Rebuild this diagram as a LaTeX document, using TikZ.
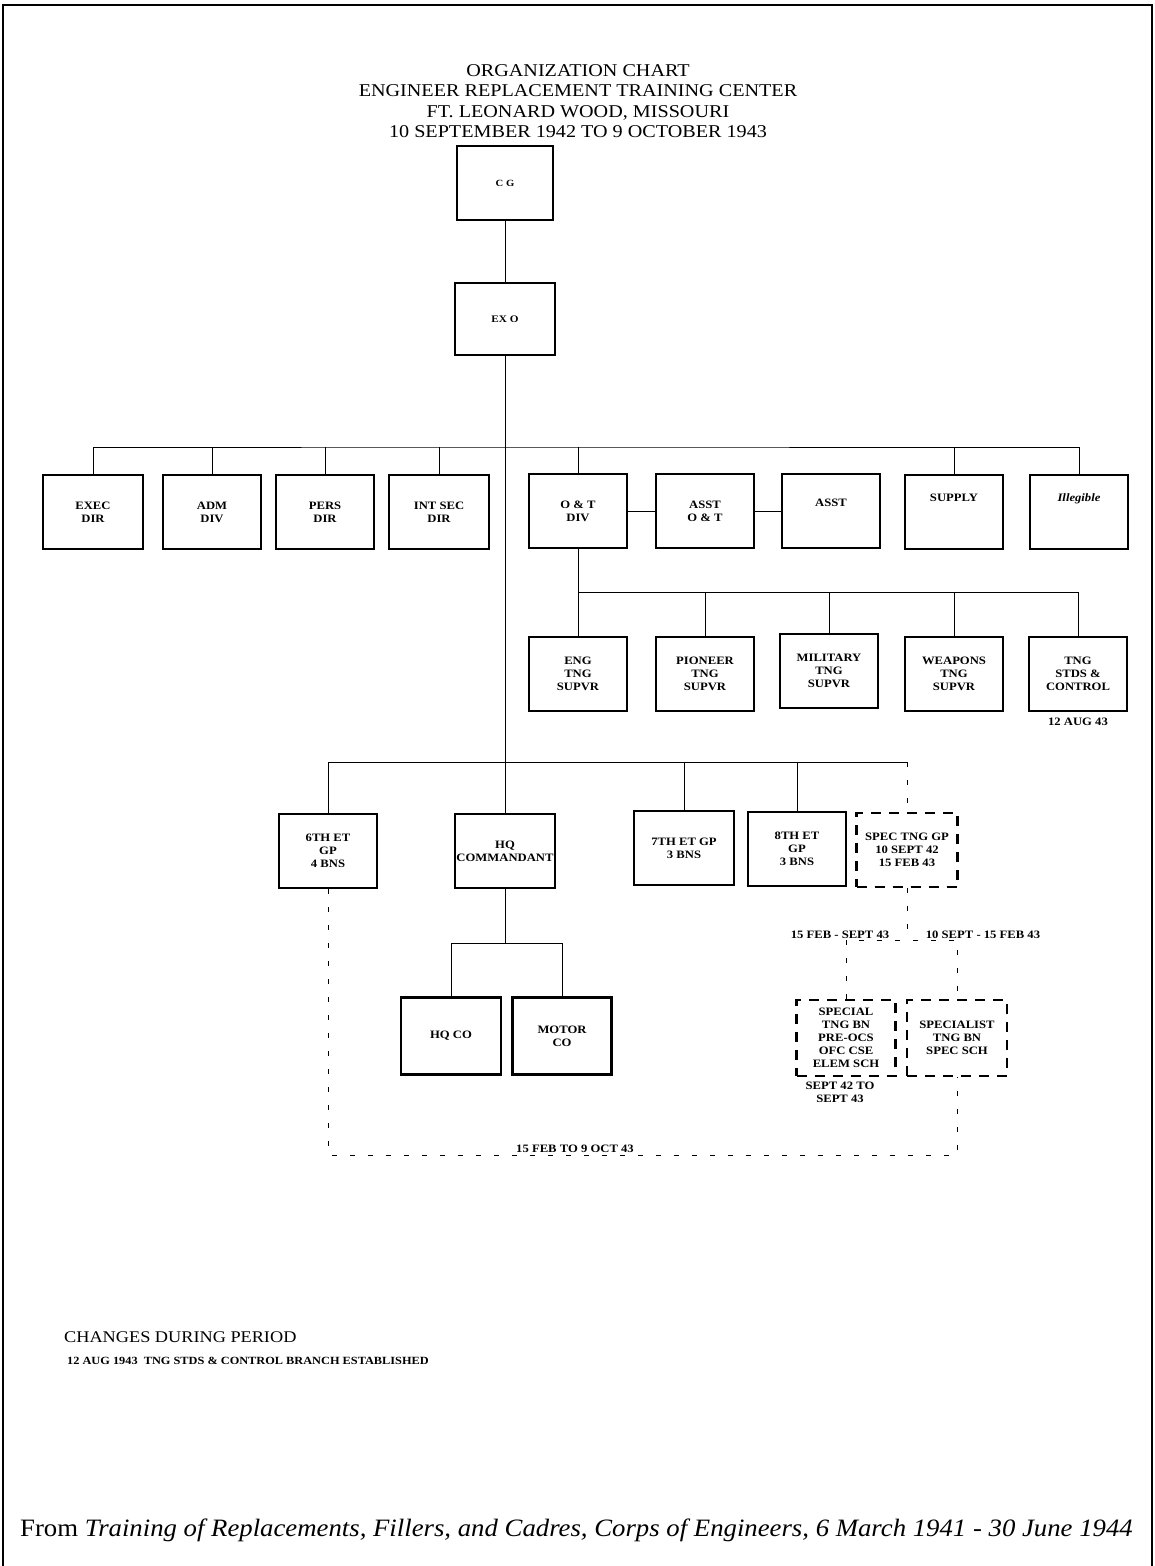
\documentclass[tikz,border=0pt]{standalone}
\usepackage{fontspec}
\setmainfont{Liberation Serif}
\newfontfamily\wide{Liberation Serif}[FakeStretch=1.12]
\newfontfamily\srcfont{Liberation Serif}[FakeStretch=1.07]
\begin{document}
\begin{tikzpicture}[x=1pt,y=-1pt,
  boxfont/.style={font=\wide\bfseries\fontsize{11.3}{13}\selectfont},
  box/.style={draw, line width=2.4pt, minimum width=98pt, minimum height=74pt, inner sep=0pt, align=center, boxfont},
  dbox/.style={box, dash pattern=on 10pt off 8pt},
  conn/.style={line width=0.9pt},
  dconn/.style={line width=1pt, dash pattern=on 5pt off 13pt},
  lbl/.style={boxfont, inner sep=0pt, align=center}]
\useasboundingbox (0,0) rectangle (1154,1566);
\draw[line width=2pt] (3,1566) -- (3,5) -- (1152,5) -- (1152,1566);

\node[font=\wide\fontsize{18}{20.5}\selectfont, align=center, inner sep=0pt] (title) at (578,101)
  {ORGANIZATION CHART\\ENGINEER REPLACEMENT TRAINING CENTER\\FT. LEONARD WOOD, MISSOURI\\10 SEPTEMBER 1942 TO 9 OCTOBER 1943};

% top
\node[box, minimum width=96pt, font=\wide\bfseries\fontsize{9.5}{11}\selectfont] (cg) at (505,183) {C G};
\node[box, minimum width=100pt, minimum height=72pt, font=\wide\bfseries\fontsize{10}{11}\selectfont] (exo) at (505,319) {EX O};

% row 1
\node[box, minimum width=100pt] (exec) at (93,512) {EXEC\\DIR};
\node[box] (adm) at (212,512) {ADM\\DIV};
\node[box] (pers) at (325,512) {PERS\\DIR};
\node[box, minimum width=100pt] (intsec) at (439,512) {INT SEC\\DIR};
\node[box] (ot) at (578,511) {O \& T\\DIV};
\node[box] (assto) at (705,511) {ASST\\O \& T};
\node[box, label={[lbl, yshift=8pt]center:ASST}] (asst) at (831,511) {};
\node[box, label={[lbl, yshift=14pt]center:SUPPLY}] (supply) at (954,512) {};
\node[box, label={[lbl, yshift=13pt]center:\textit{Illegible}}] (illeg) at (1079,512) {};

% row 2
\node[box] (eng) at (578,674) {ENG\\TNG\\SUPVR};
\node[box] (pion) at (705,674) {PIONEER\\TNG\\SUPVR};
\node[box] (mil) at (829,671) {MILITARY\\TNG\\SUPVR};
\node[box] (weap) at (954,674) {WEAPONS\\TNG\\SUPVR};
\node[box] (tngstds) at (1078,674) {TNG\\STDS \&\\CONTROL};
\node[lbl] (aug) at (1078,722) {12 AUG 43};

% row 3
\node[box] (g6) at (328,851) {6TH ET\\GP\\4 BNS};
\node[box, minimum width=100pt] (hq) at (505,851) {HQ\\COMMANDANT};
\node[box, minimum width=100pt] (g7) at (684,848) {7TH ET GP\\3 BNS};
\node[box] (g8) at (797,849) {8TH ET\\GP\\3 BNS};
\node[dbox, minimum width=101pt] (spec) at (907,850) {SPEC TNG GP\\10 SEPT 42\\15 FEB 43};

% row 4
\node[box, minimum width=100pt, minimum height=77pt] (hqco) at (451,1036) {HQ CO};
\node[box, minimum width=99pt, minimum height=77pt] (motor) at (562,1036) {MOTOR\\CO};
\node[dbox, minimum width=99pt, minimum height=76pt] (special) at (846,1038) {SPECIAL\\TNG BN\\PRE-OCS\\OFC CSE\\ELEM SCH};
\node[dbox, minimum width=100pt, minimum height=76pt] (specialist) at (957,1038) {SPECIALIST\\TNG BN\\SPEC SCH};
\node[lbl] (sept) at (840,1092) {SEPT 42 TO\\SEPT 43};

% connectors
\draw[conn] (cg) -- (exo);
\draw[conn] (exo) -- (hq);
\coordinate (b1) at (505,447);
\draw[conn] (exec.north) |- (b1) -| (illeg.north);
\foreach \n in {adm,pers,intsec,ot,supply} \draw[conn] (\n.north) -- (\n.north |- b1);
\draw[conn] (ot) -- (assto);
\draw[conn] (assto) -- (asst);
\coordinate (b2) at (578,592);
\draw[conn] (ot) -- (eng);
\draw[conn] (b2) -| (tngstds.north);
\foreach \n in {pion,mil,weap} \draw[conn] (\n.north) -- (\n.north |- b2);
\coordinate (b3) at (505,762);
\draw[conn] (g6.north) |- (b3) -- (b3 -| spec.north) coordinate (b3r);
\foreach \n in {g7,g8} \draw[conn] (\n.north) -- (\n.north |- b3);
\draw[dconn] (b3r) -- (spec.north);
\draw[conn] (hq.south) -- ++(0,54) coordinate (b4);
\draw[conn] (hqco.north) |- (b4) -| (motor.north);

\coordinate (b5) at (907,940);
\draw[dconn] (spec.south) -- (b5);
\draw[dconn] (special.north) |- (b5) -| (specialist.north);
\node[lbl, anchor=base] (l1) at (840,938) {15 FEB - SEPT 43};
\node[lbl, anchor=base] (l2) at (983,938) {10 SEPT - 15 FEB 43};

\coordinate (b6) at (640,1155);
\draw[dconn] (g6.south) |- (b6) -| (specialist.south);
\node[lbl, anchor=base] (l3) at (575,1152) {15 FEB TO 9 OCT 43};

% changes
\node[anchor=base west, inner sep=0pt, font=\wide\fontsize{16.3}{18}\selectfont] (chg) at (64,1342) {CHANGES DURING PERIOD};
\node[anchor=base west, inner sep=0pt, font=\wide\bfseries\fontsize{11}{12}\selectfont] (chg1) at (67,1364) {12 AUG 1943\ \ TNG STDS \& CONTROL BRANCH ESTABLISHED};

% source
\node[anchor=base west, inner sep=0pt, font=\srcfont\fontsize{25}{28}\selectfont] (src) at (20,1536) {From \textit{Training of Replacements, Fillers, and Cadres, Corps of Engineers, 6 March 1941 - 30 June 1944}};
\end{tikzpicture}
\end{document}
